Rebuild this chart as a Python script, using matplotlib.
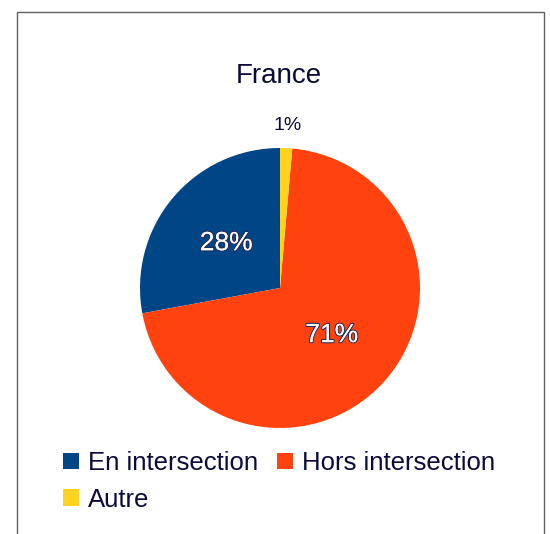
import matplotlib.pyplot as plt
import matplotlib.patheffects as pe
from matplotlib.patches import Rectangle
import numpy as np

# data
labels = ["En intersection", "Hors intersection", "Autre"]
values = [27.9, 70.7, 1.4]
colors = ["#004586", "#ff420e", "#ffd320"]
title = "France"

TXT = "#0b0b3b"
plt.rcParams["font.family"] = ["Liberation Sans", "DejaVu Sans"]

W, H = 550, 534
fig = plt.figure(figsize=(W / 100, H / 100), dpi=100)

# outer frame
fig.patches.append(Rectangle((16.5 / W, -0.1), (544 - 16.5) / W, 1.1 - 12.5 / H,
                             transform=fig.transFigure, fill=False,
                             edgecolor="#606060", linewidth=1.0))

# pie: centre (280, 288), radius 140 px
cx, cy, r = 280, 288, 140
ax = fig.add_axes([(cx - r) / W, (H - cy - r) / H, 2 * r / W, 2 * r / H])
wedges, texts, autotexts = ax.pie(values, colors=colors, startangle=90,
                                  counterclock=True, autopct="%1.0f%%",
                                  pctdistance=0.5, radius=1.0,
                                  wedgeprops=dict(linewidth=0))
ax.set_xlim(-1, 1)
ax.set_ylim(-1, 1)
ax.set_aspect("equal")
ax.axis("off")

for t in autotexts:
    t.set_fontsize(19)
    t.set_color("white")
    t.set_path_effects([pe.withStroke(linewidth=1.6, foreground="#2a2a5a"), pe.Normal()])

# small slice label goes outside
small = autotexts[2]
ang = np.deg2rad((wedges[2].theta1 + wedges[2].theta2) / 2)
small.set_position((1.16 * np.cos(ang), 1.16 * np.sin(ang)))
small.set_color(TXT)
small.set_fontsize(14)
small.set_path_effects([])

fig.text(279 / W, 1 - 83 / H, title, ha="center", va="baseline", fontsize=20, color=TXT)

# legend, filled row by row
order = [0, 2, 1]
leg = fig.legend([wedges[i] for i in order], [labels[i] for i in order],
                 ncol=2, loc="upper left", bbox_to_anchor=(63 / W, 1 - 451 / H),
                 frameon=False, fontsize=18.5, handlelength=0.62, handleheight=0.62,
                 handletextpad=0.35, columnspacing=0.75, labelspacing=0.5,
                 borderpad=0, borderaxespad=0)
for t in leg.get_texts():
    t.set_color(TXT)

fig.savefig("out.png", dpi=100)
